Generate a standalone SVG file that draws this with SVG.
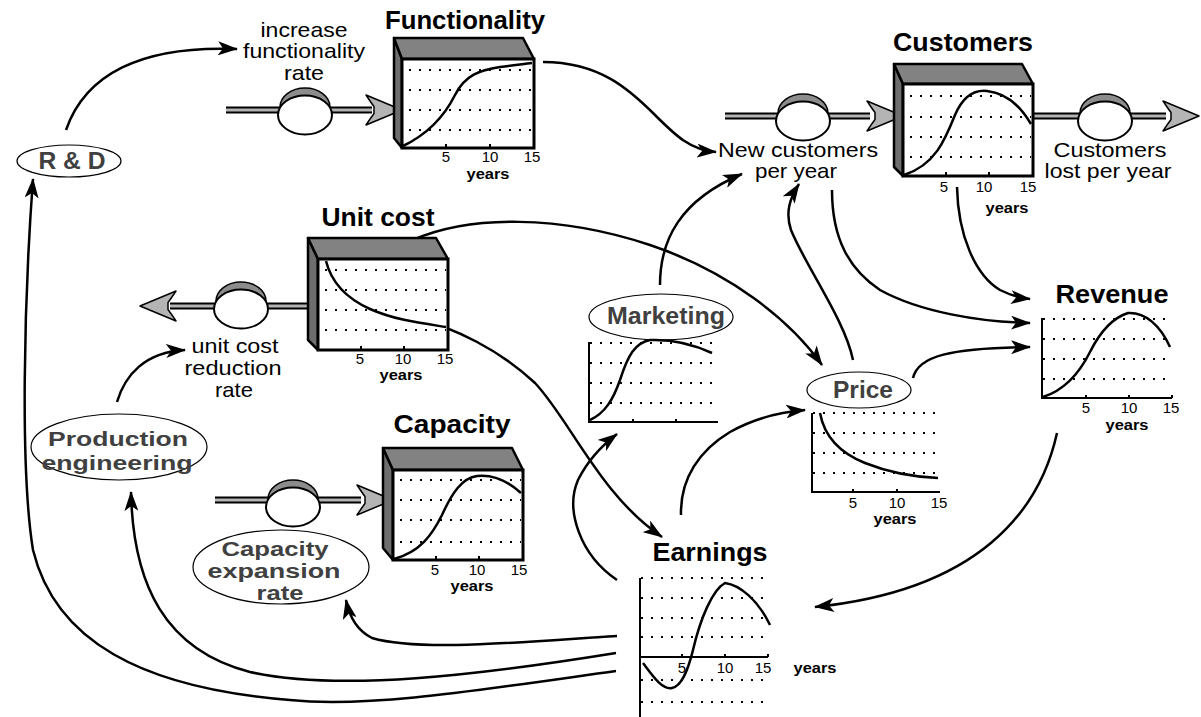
<svg xmlns="http://www.w3.org/2000/svg" xmlns:xlink="http://www.w3.org/1999/xlink" width="1201" height="717" viewBox="0 0 1201 717">
<style>
.t{font-family:"Liberation Sans",Arial,sans-serif;font-weight:bold;font-size:26px;text-anchor:middle;fill:#000}
.a{font-family:"Liberation Sans",Arial,sans-serif;font-weight:bold;font-size:23px;text-anchor:middle;fill:#404040}
.a2{font-family:"Liberation Sans",Arial,sans-serif;font-weight:bold;font-size:21px;text-anchor:middle;fill:#404040}
.a3{font-family:"Liberation Sans",Arial,sans-serif;font-weight:bold;font-size:19.5px;text-anchor:middle;fill:#404040}
.l{font-family:"Liberation Sans",Arial,sans-serif;font-size:21px;text-anchor:middle;fill:#000}
.n{font-family:"Liberation Sans",Arial,sans-serif;font-size:15px;text-anchor:middle;fill:#000}
.y{font-family:"Liberation Sans",Arial,sans-serif;font-weight:bold;font-size:15px;text-anchor:middle;fill:#000}
.side{fill:#6e6e6e;stroke:#000;stroke-width:2.5;stroke-linejoin:round}
.top{fill:#828282;stroke:#000;stroke-width:2.5;stroke-linejoin:round}
.front{fill:#fff;stroke:#000;stroke-width:3}
.dot{stroke:#000;stroke-width:2;stroke-dasharray:2 8;fill:none}
.crv{fill:none;stroke:#000;stroke-width:2.5}
.ax{fill:none;stroke:#000;stroke-width:2}
.pipeo{stroke:#000;stroke-width:7}
.pipei{stroke:#b4b4b4;stroke-width:3}
.parr{fill:#b4b4b4;stroke:#000;stroke-width:1.5;stroke-linejoin:round}
.aux{fill:#fff;stroke:#000;stroke-width:1.2}
.con{fill:none;stroke:#000;stroke-width:2.5;marker-end:url(#ah)}
</style>
<defs>
<marker id="ah" viewBox="0 0 20 14" refX="19" refY="7" markerWidth="20" markerHeight="14" markerUnits="userSpaceOnUse" orient="auto"><path d="M0,0 L20,7 L0,14 L5,7 Z" fill="#000"/></marker>
<g id="valve"><ellipse cx="0" cy="-8" rx="25" ry="19" fill="#8c8c8c" stroke="#000" stroke-width="1.5"/><ellipse cx="0" cy="0" rx="27" ry="19.5" fill="#fff" stroke="#000" stroke-width="2"/></g>
<path id="parrow" class="parr" d="M0,0 C-12,-5 -24,-10 -36,-15 C-32,-9 -30,-6 -28,-3.5 L-28,3.5 C-30,6 -32,9 -36,15 C-24,10 -12,5 0,0 Z"/>
</defs>
<rect width="1201" height="717" fill="#fff"/>

<g id="connectors">
<path class="con" d="M66,130 C85,75 140,45 237,49"/>
<path class="con" d="M617,636 C520,642 420,652 372,638 C356,630 349,615 346,600"/>
<path class="con" d="M616,653 C480,675 340,692 250,672 C165,650 133,585 131,492"/>
<path class="con" d="M616,671 C480,690 370,708 290,700 C140,688 55,640 33,550 C20,470 24,300 33,179"/>
<path class="con" d="M617,580 C580,555 565,510 578,480 C587,462 600,447 617,434"/>
<path class="con" d="M681,515 C680,478 700,450 730,432 C755,418 780,412 805,410"/>
<path class="con" d="M413,317 C455,328 500,350 535,383 C570,420 600,495 662,537"/>
<path class="con" d="M413,240 C470,215 560,215 650,245 C730,272 790,320 822,365"/>
<path class="con" d="M660,285 C660,240 680,200 742,174"/>
<path class="con" d="M543,62 C600,62 630,90 655,115 C675,135 690,150 716,152"/>
<path class="con" d="M853,360 C845,320 805,265 791,230 C785,212 790,198 799,184"/>
<path class="con" d="M832,190 C832,240 850,270 880,290 C920,312 980,322 1030,323"/>
<path class="con" d="M957,187 C958,235 975,275 1000,290 C1012,296 1020,298 1030,299"/>
<path class="con" d="M913,378 C918,356 950,348 1030,347"/>
<path class="con" d="M1057,433 C1040,510 980,590 815,607"/>
<path class="con" d="M117,402 C125,375 145,352 185,350"/>
</g>

<g id="functionality">
<line class="pipeo" x1="226" y1="110" x2="372" y2="110"/><line class="pipei" x1="226" y1="110" x2="372" y2="110"/>
<use xlink:href="#valve" x="305" y="115"/>
<use xlink:href="#parrow" x="402" y="110"/>
<polygon class="side" points="394,38 402,59 402,148 394,138"/>
<polygon class="top" points="394,38 523,38 534,59 402,59"/>
<rect class="front" x="402" y="59" width="132" height="89"/>
<g class="dot"><line x1="409" y1="70" x2="532" y2="70"/><line x1="409" y1="90" x2="532" y2="90"/><line x1="409" y1="110" x2="532" y2="110"/><line x1="409" y1="130" x2="532" y2="130"/></g>
<path class="ax" d="M446,148 v-4 M490,148 v-4"/>
<path class="crv" d="M403,146 C430,133 445,115 455,95 C465,75 480,70 500,67 C515,65 525,64 532,63"/>
<text class="t" x="465" y="29" textLength="160" lengthAdjust="spacingAndGlyphs">Functionality</text>
<text class="l" x="304" y="37" textLength="87" lengthAdjust="spacingAndGlyphs">increase</text>
<text class="l" x="304" y="58" textLength="122" lengthAdjust="spacingAndGlyphs">functionality</text>
<text class="l" x="304" y="80" textLength="40" lengthAdjust="spacingAndGlyphs">rate</text>
<text class="n" x="446" y="162">5</text><text class="n" x="490" y="162">10</text><text class="n" x="532" y="162">15</text>
<text class="y" x="488" y="179" textLength="43" lengthAdjust="spacingAndGlyphs">years</text>
</g>

<g id="customers">
<line class="pipeo" x1="725" y1="116" x2="870" y2="116"/><line class="pipei" x1="725" y1="116" x2="870" y2="116"/>
<line class="pipeo" x1="1033" y1="116" x2="1166" y2="116"/><line class="pipei" x1="1033" y1="116" x2="1166" y2="116"/>
<use xlink:href="#valve" x="803" y="121"/>
<use xlink:href="#valve" x="1105" y="121"/>
<use xlink:href="#parrow" x="903" y="116"/>
<use xlink:href="#parrow" x="1199" y="116"/>
<polygon class="side" points="894,64 903,84 903,176 894,167"/>
<polygon class="top" points="894,64 1022,64 1033,84 903,84"/>
<rect class="front" x="903" y="84" width="130" height="92"/>
<g class="dot"><line x1="910" y1="96" x2="1031" y2="96"/><line x1="910" y1="117" x2="1031" y2="117"/><line x1="910" y1="137" x2="1031" y2="137"/><line x1="910" y1="157" x2="1031" y2="157"/></g>
<path class="ax" d="M946,176 v-4 M989,176 v-4"/>
<path class="crv" d="M904,175 C935,165 945,140 955,115 C965,92 978,90 987,91 C1005,93 1020,105 1031,124"/>
<text class="t" x="963" y="51" textLength="140" lengthAdjust="spacingAndGlyphs">Customers</text>
<text class="l" x="798" y="157" textLength="160" lengthAdjust="spacingAndGlyphs">New customers</text>
<text class="l" x="796" y="178" textLength="82" lengthAdjust="spacingAndGlyphs">per year</text>
<text class="l" x="1110" y="157" textLength="113" lengthAdjust="spacingAndGlyphs">Customers</text>
<text class="l" x="1108" y="178" textLength="127" lengthAdjust="spacingAndGlyphs">lost per year</text>
<text class="n" x="944" y="192">5</text><text class="n" x="984" y="192">10</text><text class="n" x="1028" y="192">15</text>
<text class="y" x="1007" y="213" textLength="43" lengthAdjust="spacingAndGlyphs">years</text>
</g>

<g id="unit-cost">
<line class="pipeo" x1="170" y1="306" x2="318" y2="306"/><line class="pipei" x1="170" y1="306" x2="318" y2="306"/>
<use xlink:href="#valve" x="241" y="309"/>
<use xlink:href="#parrow" transform="translate(140,306) rotate(180)"/>
<polygon class="side" points="308,238 318,259 318,350 308,340"/>
<polygon class="top" points="308,238 436,238 448,259 318,259"/>
<rect class="front" x="318" y="259" width="130" height="91"/>
<g class="dot"><line x1="325" y1="270" x2="446" y2="270"/><line x1="325" y1="290" x2="446" y2="290"/><line x1="325" y1="310" x2="446" y2="310"/><line x1="325" y1="330" x2="446" y2="330"/></g>
<path class="ax" d="M361,350 v-4 M404,350 v-4"/>
<path class="crv" d="M326,261 C332,285 350,300 370,309 C395,320 420,323 446,327"/>
<text class="t" x="378" y="226" textLength="113" lengthAdjust="spacingAndGlyphs">Unit cost</text>
<text class="l" x="235" y="353" textLength="87" lengthAdjust="spacingAndGlyphs">unit cost</text>
<text class="l" x="233" y="375" textLength="97" lengthAdjust="spacingAndGlyphs">reduction</text>
<text class="l" x="234" y="397" textLength="38" lengthAdjust="spacingAndGlyphs">rate</text>
<text class="n" x="360" y="364">5</text><text class="n" x="403" y="364">10</text><text class="n" x="445" y="364">15</text>
<text class="y" x="401" y="380" textLength="43" lengthAdjust="spacingAndGlyphs">years</text>
</g>

<g id="capacity">
<line class="pipeo" x1="215" y1="500" x2="361" y2="500"/><line class="pipei" x1="215" y1="500" x2="361" y2="500"/>
<use xlink:href="#valve" x="293" y="507"/>
<use xlink:href="#parrow" x="393" y="500"/>
<polygon class="side" points="383,448 393,470 393,560 383,548"/>
<polygon class="top" points="383,448 512,448 523,470 393,470"/>
<rect class="front" x="393" y="470" width="130" height="90"/>
<g class="dot"><line x1="400" y1="480" x2="521" y2="480"/><line x1="400" y1="500" x2="521" y2="500"/><line x1="400" y1="520" x2="521" y2="520"/><line x1="400" y1="542" x2="521" y2="542"/></g>
<path class="ax" d="M436,560 v-4 M479,560 v-4"/>
<path class="crv" d="M394,559 C420,552 432,535 442,515 C452,493 462,478 477,476 C495,474 510,483 521,493"/>
<text class="t" x="452" y="433" textLength="117" lengthAdjust="spacingAndGlyphs">Capacity</text>
<text class="n" x="435" y="575">5</text><text class="n" x="477" y="575">10</text><text class="n" x="519" y="575">15</text>
<text class="y" x="472" y="591" textLength="43" lengthAdjust="spacingAndGlyphs">years</text>
</g>

<g id="r-and-d">
<ellipse class="aux" cx="69" cy="161" rx="52" ry="16"/>
<text class="a" x="72" y="169" textLength="67" lengthAdjust="spacingAndGlyphs">R &amp; D</text>
</g>

<g id="production-engineering">
<ellipse class="aux" cx="119" cy="447" rx="88" ry="33"/>
<text class="a2" x="118" y="446" textLength="140" lengthAdjust="spacingAndGlyphs">Production</text>
<text class="a2" x="117" y="470" textLength="151" lengthAdjust="spacingAndGlyphs">engineering</text>
</g>

<g id="capacity-expansion-rate">
<ellipse class="aux" cx="281" cy="567" rx="88" ry="37"/>
<text class="a3" x="275" y="556" textLength="107" lengthAdjust="spacingAndGlyphs">Capacity</text>
<text class="a3" x="274" y="578" textLength="133" lengthAdjust="spacingAndGlyphs">expansion</text>
<text class="a3" x="280" y="600" textLength="47" lengthAdjust="spacingAndGlyphs">rate</text>
</g>

<g id="marketing">
<ellipse class="aux" cx="661" cy="317" rx="72" ry="23"/>
<text class="a" x="666" y="324" textLength="118" lengthAdjust="spacingAndGlyphs">Marketing</text>
<g class="dot"><line x1="590" y1="343" x2="718" y2="343"/><line x1="590" y1="363" x2="718" y2="363"/><line x1="590" y1="383" x2="718" y2="383"/><line x1="590" y1="403" x2="718" y2="403"/></g>
<path class="ax" d="M589,342 V422 H718 M633,422 v-3 M676,422 v-3"/>
<path class="crv" d="M590,420 C605,413 613,400 620,380 C628,355 635,343 650,340 C675,339 695,345 712,353"/>
</g>

<g id="price">
<ellipse class="aux" cx="859" cy="390" rx="52" ry="18"/>
<text class="a" x="863" y="398" textLength="60" lengthAdjust="spacingAndGlyphs">Price</text>
<g class="dot"><line x1="813" y1="413" x2="940" y2="413"/><line x1="813" y1="433" x2="940" y2="433"/><line x1="813" y1="453" x2="940" y2="453"/><line x1="813" y1="473" x2="940" y2="473"/></g>
<path class="ax" d="M812,413 V492 H940 M853,492 v-3 M897,492 v-3"/>
<path class="crv" d="M820,413 C825,440 845,455 865,463 C890,473 915,477 938,478"/>
<text class="n" x="853" y="508">5</text><text class="n" x="897" y="508">10</text><text class="n" x="939" y="508">15</text>
<text class="y" x="895" y="524" textLength="43" lengthAdjust="spacingAndGlyphs">years</text>
</g>

<g id="revenue">
<text class="t" x="1112" y="303" textLength="113" lengthAdjust="spacingAndGlyphs">Revenue</text>
<g class="dot"><line x1="1043" y1="319" x2="1172" y2="319"/><line x1="1043" y1="339" x2="1172" y2="339"/><line x1="1043" y1="359" x2="1172" y2="359"/><line x1="1043" y1="379" x2="1172" y2="379"/></g>
<path class="ax" d="M1042,318 V398 H1172 M1086,398 v-3 M1129,398 v-3 M1172,398 v-3"/>
<path class="crv" d="M1043,397 C1065,390 1080,372 1090,352 C1100,332 1112,318 1128,313 C1145,312 1160,325 1170,347"/>
<text class="n" x="1086" y="413">5</text><text class="n" x="1129" y="413">10</text><text class="n" x="1171" y="413">15</text>
<text class="y" x="1127" y="430" textLength="43" lengthAdjust="spacingAndGlyphs">years</text>
</g>

<g id="earnings">
<text class="t" x="710" y="561" textLength="115" lengthAdjust="spacingAndGlyphs">Earnings</text>
<g class="dot"><line x1="641" y1="578" x2="768" y2="578"/><line x1="641" y1="598" x2="768" y2="598"/><line x1="641" y1="618" x2="768" y2="618"/><line x1="641" y1="637" x2="768" y2="637"/><line x1="641" y1="680" x2="768" y2="680"/><line x1="641" y1="702" x2="768" y2="702"/></g>
<path class="ax" d="M640,578 V717 M640,657 H768 M682,657 v-3 M725,657 v-3 M768,657 v-3"/>
<path class="crv" d="M643,663 C652,675 662,690 672,688 C682,686 688,670 693,650 C700,620 712,590 725,583 C740,585 758,600 770,625"/>
<text class="n" x="682" y="673">5</text><text class="n" x="725" y="673">10</text><text class="n" x="763" y="673">15</text>
<text class="y" x="815" y="673" textLength="43" lengthAdjust="spacingAndGlyphs">years</text>
</g>
</svg>
